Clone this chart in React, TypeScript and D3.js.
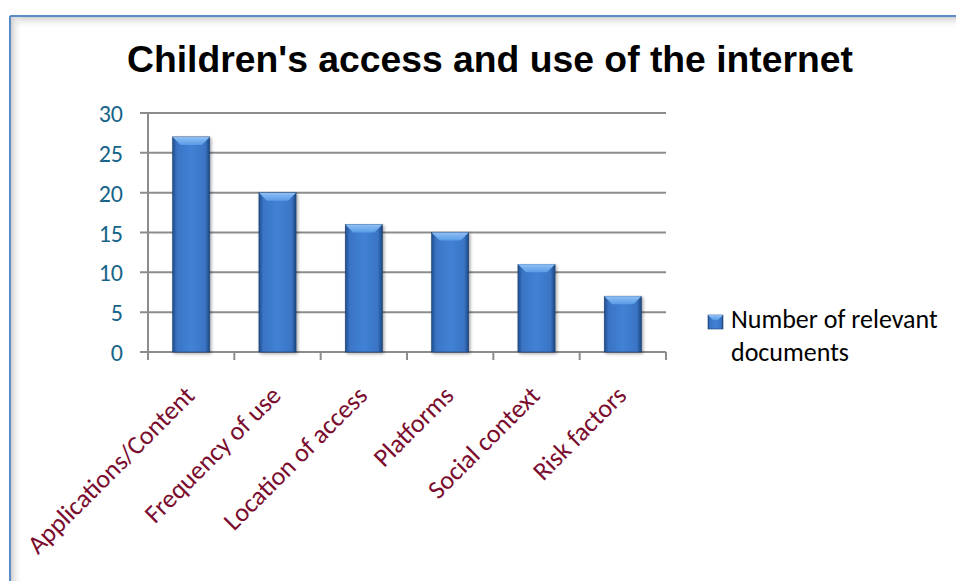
import React from "react";
import * as d3 from "d3";

const categories = ["Applications/Content", "Frequency of use", "Location of access", "Platforms", "Social context", "Risk factors"];
const values = [27, 20, 16, 15, 11, 7];
const yTicks = [0, 5, 10, 15, 20, 25, 30];
const seriesName = ["Number of relevant", "documents"];
const title = "Children's access and use of the internet";

export default function App() {
  const W = 956, H = 581;
  const left = 148, right = 666, top = 113, bottom = 352;
  const x = d3.scaleBand<string>().domain(categories).range([left, right]).paddingInner(0.57).paddingOuter(0.285);
  const y = d3.scaleLinear().domain([0, 30]).range([bottom, top]);
  const band = (right - left) / categories.length;
  const fontC = "Carlito, Calibri, 'Open Sans', sans-serif";
  return (
    <svg width={W} height={H} style={{ position: "absolute", left: 0, top: 0, background: "#fff" }}>
      <defs>
        <linearGradient id="barG" x1="0" x2="1" y1="0" y2="0">
          <stop offset="0" stopColor="#1f4f8f" />
          <stop offset="0.12" stopColor="#3a74c4" />
          <stop offset="0.5" stopColor="#4182d6" />
          <stop offset="0.88" stopColor="#3a74c4" />
          <stop offset="1" stopColor="#1c4680" />
        </linearGradient>
        <linearGradient id="bevG" x1="0" x2="0" y1="0" y2="1">
          <stop offset="0" stopColor="#8fc0f5" />
          <stop offset="1" stopColor="#5a9be6" />
        </linearGradient>
        <linearGradient id="shadowL" x1="0" x2="1" y1="0" y2="0">
          <stop offset="0" stopColor="#d0d0d0" />
          <stop offset="1" stopColor="#ffffff" stopOpacity="0" />
        </linearGradient>
        <linearGradient id="shadowT" x1="0" x2="0" y1="0" y2="1">
          <stop offset="0" stopColor="#d0d0d0" />
          <stop offset="1" stopColor="#ffffff" stopOpacity="0" />
        </linearGradient>
        <filter id="bs" x="-20%" y="-10%" width="140%" height="120%">
          <feDropShadow dx="1.5" dy="1.5" stdDeviation="1.5" floodColor="#000" floodOpacity="0.35" />
        </filter>
      </defs>
      {/* frame */}
      <rect x={11} y={17} width={W} height={12} fill="url(#shadowT)" />
      <rect x={11} y={17} width={12} height={H} fill="url(#shadowL)" />
      <line x1={10} y1={16} x2={W} y2={16} stroke="#5b8cc8" strokeWidth={2} />
      <line x1={10} y1={16} x2={10} y2={H} stroke="#5b8cc8" strokeWidth={2} />
      <text x={490} y={72} textAnchor="middle" fontFamily="Arial, 'Liberation Sans', sans-serif" fontWeight="bold" fontSize={37.3} fill="#000">{title}</text>
      {/* gridlines */}
      {yTicks.map(t => (
        <g key={t}>
          <line x1={left - 8} x2={right} y1={y(t)} y2={y(t)} stroke="#8c8c8c" strokeWidth={2} />
          <text x={123} y={y(t) + 9} textAnchor="end" fontFamily={fontC} fontSize={24} fill="#17648a">{t}</text>
        </g>
      ))}
      <line x1={left} x2={left} y1={top} y2={bottom + 8} stroke="#8c8c8c" strokeWidth={2} />
      {categories.map((c, i) => (
        <line key={c} x1={left + band * (i + 1)} x2={left + band * (i + 1)} y1={bottom} y2={bottom + 8} stroke="#8c8c8c" strokeWidth={2} />
      ))}
      {/* bars */}
      {categories.map((c, i) => {
        const bx = x(c)!, bw = x.bandwidth(), by = y(values[i]), bh = bottom - by;
        const bev = 8;
        return (
          <g key={c} filter="url(#bs)">
            <rect x={bx} y={by} width={bw} height={bh} fill="url(#barG)" stroke="#1d3f6e" strokeWidth={0.6} />
            <polygon points={`${bx},${by} ${bx + bw},${by} ${bx + bw - bev},${by + bev} ${bx + bev},${by + bev}`} fill="url(#bevG)" />
          </g>
        );
      })}
      {/* category labels */}
      {categories.map((c, i) => {
        const cx = x(c)! + x.bandwidth() / 2 + 5;
        const cy = 397;
        return (
          <text key={c} transform={`translate(${cx},${cy}) rotate(-45)`} textAnchor="end" fontFamily={fontC} fontSize={26} fill="#7a0c2e">{c}</text>
        );
      })}
      {/* legend */}
      <rect x={708} y={315} width={15} height={14} fill="url(#barG)" stroke="#1d3f6e" strokeWidth={0.6} />
      <polygon points="708,315 723,315 718,320 713,320" fill="url(#bevG)" />
      <text fontFamily={fontC} fontSize={26} fill="#000">
        <tspan x={731} y={328}>{seriesName[0]}</tspan>
        <tspan x={731} y={361}>{seriesName[1]}</tspan>
      </text>
    </svg>
  );
}
